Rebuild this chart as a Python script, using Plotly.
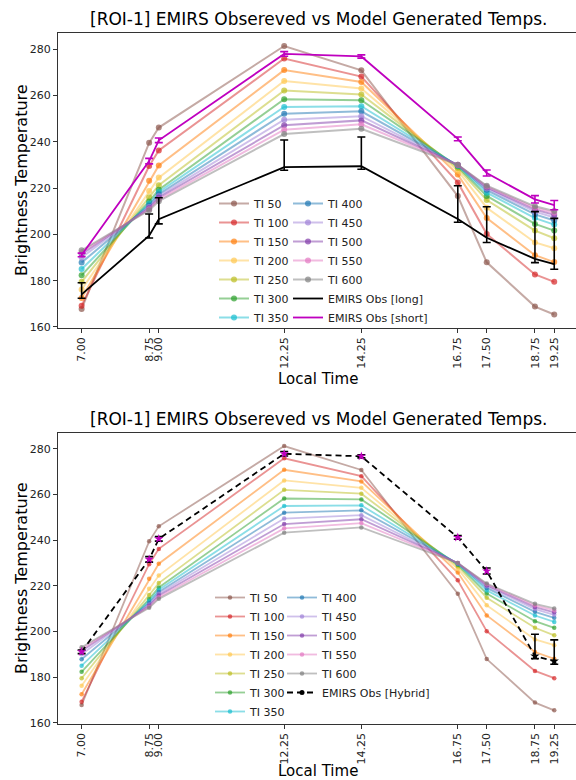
import plotly.graph_objects as go

# ---------------- data ----------------
local_time = [7.00, 8.75, 9.00, 12.25, 14.25, 16.75, 17.50, 18.75, 19.25]
tick_labels = ["7.00", "8.75", "9.00", "12.25", "14.25", "16.75", "17.50", "18.75", "19.25"]
y_ticks = [160, 180, 200, 220, 240, 260, 280]

ti_labels = ["TI 50", "TI 100", "TI 150", "TI 200", "TI 250", "TI 300", "TI 350",
             "TI 400", "TI 450", "TI 500", "TI 550", "TI 600"]
ti_50 = [167.8, 239.5, 246.1, 281.3, 270.8, 216.5, 187.9, 168.8, 165.4]
ti_100 = [169.2, 229.5, 236.2, 275.9, 268.1, 222.4, 200.1, 182.7, 179.5]
ti_150 = [172.5, 223.1, 229.7, 270.9, 265.8, 225.8, 207.0, 191.0, 188.0]
ti_200 = [176.2, 218.7, 224.5, 266.2, 263.0, 227.5, 211.5, 196.5, 194.0]
ti_250 = [179.5, 216.0, 221.2, 262.1, 260.4, 228.6, 214.8, 201.6, 198.3]
ti_300 = [182.3, 214.2, 219.3, 258.3, 257.9, 229.3, 216.6, 204.5, 201.6]
ti_350 = [185.0, 213.3, 218.3, 255.0, 255.3, 229.6, 218.0, 207.0, 204.2]
ti_400 = [187.8, 212.5, 217.3, 252.1, 253.1, 229.8, 219.1, 208.6, 206.0]
ti_450 = [190.0, 211.8, 216.5, 249.5, 251.0, 229.9, 219.8, 209.8, 207.3]
ti_500 = [191.4, 211.3, 215.8, 247.1, 249.2, 230.0, 220.3, 210.7, 208.4]
ti_550 = [192.3, 210.8, 215.0, 245.2, 247.5, 230.0, 220.7, 211.4, 209.3]
ti_600 = [193.1, 210.4, 214.3, 243.3, 245.6, 230.0, 221.0, 212.1, 210.1]
ti_series = [ti_50, ti_100, ti_150, ti_200, ti_250, ti_300, ti_350,
             ti_400, ti_450, ti_500, ti_550, ti_600]

obs_long = [174.1, 199.4, 206.5, 229.0, 229.4, 206.6, 198.5, 189.4, 187.1]
obs_long_err_plus = [5.0, 9.4, 9.3, 11.7, 12.6, 14.4, 13.4, 20.4, 19.8]
obs_long_err_minus = [1.7, 1.0, 2.0, 1.3, 1.3, 1.4, 2.0, 1.6, 2.2]

obs_short = [191.1, 231.6, 240.6, 277.9, 276.8, 241.2, 226.5, 215.1, 212.6]
obs_short_err = [0.8, 1.2, 1.0, 1.0, 0.7, 0.8, 1.3, 1.6, 2.0]

obs_hybrid = [191.1, 231.6, 240.6, 277.9, 276.8, 241.2, 226.5, 189.2, 187.0]
obs_hybrid_err_plus = [0.8, 1.2, 1.0, 1.0, 0.7, 0.8, 1.3, 9.6, 9.3]
obs_hybrid_err_minus = [0.8, 1.2, 1.0, 1.0, 0.7, 0.8, 1.3, 1.1, 1.4]
hybrid_source = ["short", "short", "short", "short", "short", "short", "short", "long", "long"]

# ---------------- styles ----------------
ti_colors = ["140,86,75", "214,39,40", "255,127,14", "255,200,80", "188,189,34", "44,160,44",
             "23,190,207", "31,119,180", "160,130,215", "130,60,170", "227,119,194", "127,127,127"]
MAGENTA = "#bf00bf"
FONT = "DejaVu Sans"
TXT = "#222222"

fig = go.Figure()

x_range = [6.3875, 19.814]
y_range = [159.6, 287.1]


def add_ti(xa, ya, legends, msize, lw, show=True):
    for i, (lab, vals) in enumerate(zip(ti_labels, ti_series)):
        c = ti_colors[i]
        fig.add_trace(go.Scatter(
            x=local_time, y=vals, name=lab, mode="lines+markers",
            xaxis=xa, yaxis=ya,
            line=dict(color=f"rgba({c},0.5)", width=lw),
            marker=dict(color=f"rgba({c},0.7)", size=msize),
            legend=legends[0] if i < 7 else legends[1],
            showlegend=show,
        ))


# ---- top panel ----
add_ti("x", "y", ["legend", "legend2"], 6, 2)
fig.add_trace(go.Scatter(
    x=local_time, y=obs_long, name="EMIRS Obs [long]", mode="lines",
    xaxis="x", yaxis="y", legend="legend2",
    line=dict(color="black", width=1.8),
    error_y=dict(type="data", array=obs_long_err_plus, arrayminus=obs_long_err_minus,
                 color="black", thickness=1.6, width=4),
))
fig.add_trace(go.Scatter(
    x=local_time, y=obs_short, name="EMIRS Obs [short]", mode="lines",
    xaxis="x", yaxis="y", legend="legend2",
    line=dict(color=MAGENTA, width=1.8),
    error_y=dict(type="data", array=obs_short_err, color=MAGENTA, thickness=1.6, width=4),
))

# ---- bottom panel ----
add_ti("x2", "y2", ["legend3", "legend4"], 4.5, 1.8)
hyb_colors = [MAGENTA if s == "short" else "black" for s in hybrid_source]
fig.add_trace(go.Scatter(
    x=local_time, y=obs_hybrid, name="EMIRS Obs [Hybrid]", mode="lines+markers",
    xaxis="x2", yaxis="y2", legend="legend4", showlegend=False,
    line=dict(color="black", width=1.8, dash="6px,4px"),
    marker=dict(color=hyb_colors, size=7, symbol="star"),
    error_y=dict(type="data", array=obs_hybrid_err_plus, arrayminus=obs_hybrid_err_minus,
                 color="black", thickness=1.6, width=4),
))
fig.add_trace(go.Scatter(
    x=[None], y=[None], name="EMIRS Obs [Hybrid]", mode="lines+markers",
    xaxis="x2", yaxis="y2", legend="legend4",
    line=dict(color="black", width=1.8, dash="6px,4px"),
    marker=dict(color="black", size=5),
))

# ---------------- layout ----------------
W, H = 576, 780
ML = 58


def px_x(p):
    return (p - ML) / (W - ML)


def px_y(p):
    return 1 - p / H


axis_common = dict(
    showgrid=False, zeroline=False, showline=True, linecolor="#333333", linewidth=1,
    ticks="outside", ticklen=4, tickcolor="#333333", automargin=False,
    tickfont=dict(family=FONT, size=11, color=TXT),
)
xaxis_common = dict(axis_common, range=x_range, tickmode="array", tickvals=local_time,
                    ticktext=tick_labels, tickangle=-90, mirror=True, domain=[0, 1])
yaxis_common = dict(axis_common, range=y_range, tickmode="array", tickvals=y_ticks, mirror=False)

legend_common = dict(bgcolor="rgba(0,0,0,0)", borderwidth=0,
                     font=dict(family=FONT, size=11, color=TXT),
                     xanchor="left", yanchor="top", itemwidth=30, tracegroupgap=0)

fig.update_layout(
    width=W, height=H,
    margin=dict(l=ML, r=0, t=0, b=0, autoexpand=False),
    paper_bgcolor="white", plot_bgcolor="white",
    font=dict(family=FONT, color=TXT),
    xaxis=dict(xaxis_common, anchor="y"),
    yaxis=dict(yaxis_common, anchor="x", domain=[px_y(327.9), px_y(32.6)]),
    xaxis2=dict(xaxis_common, anchor="y2"),
    yaxis2=dict(yaxis_common, anchor="x2", domain=[px_y(723.6), px_y(432.8)]),
    legend=dict(legend_common, x=px_x(214), y=px_y(189)),
    legend2=dict(legend_common, x=px_x(288), y=px_y(189)),
    legend3=dict(legend_common, x=px_x(210), y=px_y(583)),
    legend4=dict(legend_common, x=px_x(282), y=px_y(583)),
    annotations=[
        dict(text="[ROI-1] EMIRS Obsereved vs Model Generated Temps.", x=px_x(318), y=px_y(19),
             xref="paper", yref="paper", showarrow=False, xanchor="center", yanchor="middle",
             font=dict(family=FONT, size=17, color="black")),
        dict(text="[ROI-1] EMIRS Obsereved vs Model Generated Temps.", x=px_x(318), y=px_y(419),
             xref="paper", yref="paper", showarrow=False, xanchor="center", yanchor="middle",
             font=dict(family=FONT, size=17, color="black")),
        dict(text="Local Time", x=px_x(318), y=px_y(379), xref="paper", yref="paper",
             showarrow=False, xanchor="center", yanchor="middle",
             font=dict(family=FONT, size=15, color="black")),
        dict(text="Local Time", x=px_x(318), y=px_y(771), xref="paper", yref="paper",
             showarrow=False, xanchor="center", yanchor="middle",
             font=dict(family=FONT, size=15, color="black")),
        dict(text="Brightness Temperature", x=px_x(21), y=px_y(180), xref="paper", yref="paper",
             showarrow=False, xanchor="center", yanchor="middle", textangle=-90,
             font=dict(family=FONT, size=16, color="black")),
        dict(text="Brightness Temperature", x=px_x(21), y=px_y(578), xref="paper", yref="paper",
             showarrow=False, xanchor="center", yanchor="middle", textangle=-90,
             font=dict(family=FONT, size=16, color="black")),
    ],
)

fig.write_html("out.html", config={"displayModeBar": False},
               post_script="document.body.style.margin='0';")
